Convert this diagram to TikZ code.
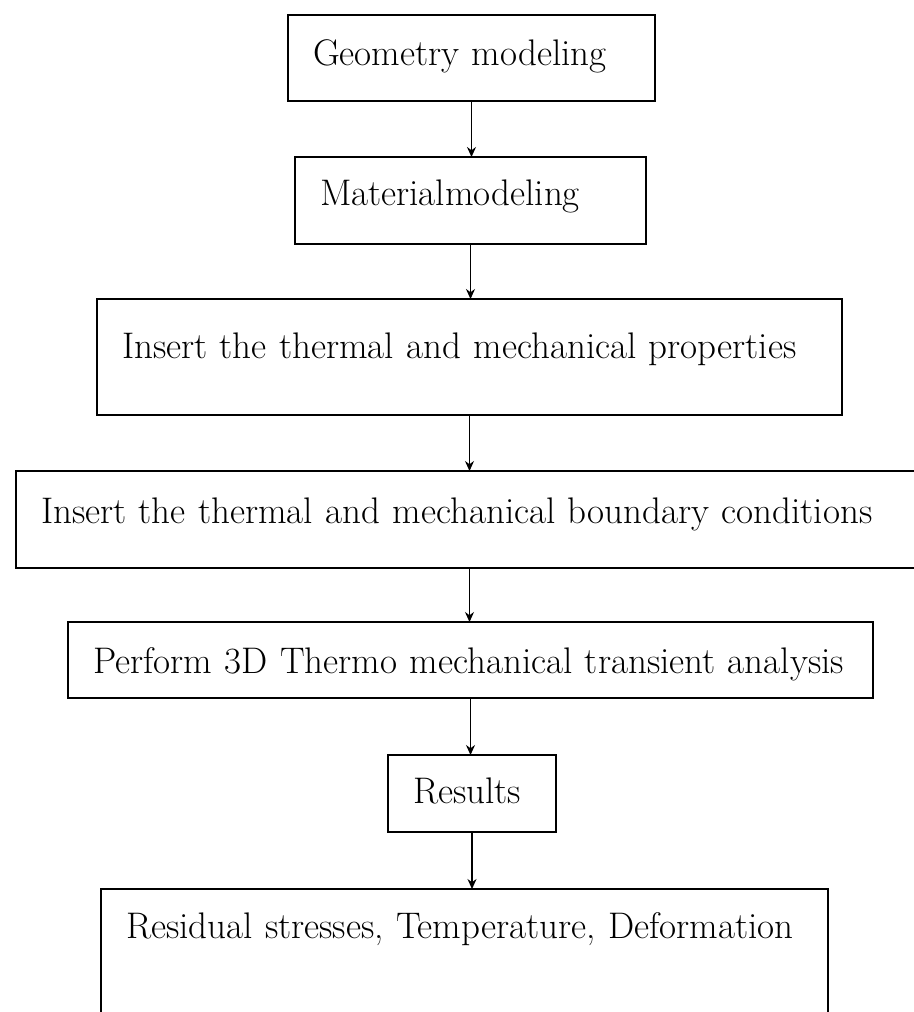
\documentclass[tikz,border=0pt]{standalone}
\usepackage{fontspec}
\usetikzlibrary{arrows.meta}
\begin{document}
\begin{tikzpicture}[x=0.5pt,y=-0.5pt,line join=miter,
  stepbox/.style={draw,line width=1pt,anchor=north west,outer sep=0pt,
    inner xsep=12.5pt,inner ysep=0pt,align=left,
    font=\fontsize{18.5}{22}\selectfont},
  flow/.style={line width=0.7pt,-{Stealth[length=5pt,width=4.5pt]}}]
  \useasboundingbox (0,0) rectangle (914,1012);
  % boxes, top-left corners in pixel units
  \node[stepbox,text width=158.5pt,text height=25.3pt,text depth=17.7pt] (geom) at (288,15) {Geometry modeling};
  \node[stepbox,text width=150.5pt,text height=24.3pt,text depth=19.2pt] (mat) at (295,157) {Materialmodeling};
  \node[stepbox,text width=347.5pt,text height=29.8pt,text depth=28.2pt] (props) at (97,299) {Insert the thermal and mechanical properties};
  \node[stepbox,text width=429pt,text height=26.3pt,text depth=22.2pt] (bcs) at (16,471) {Insert the thermal and mechanical boundary conditions};
  \node[stepbox,text width=377.5pt,text height=25.8pt,text depth=12.2pt] (solve) at (68,622) {Perform 3D Thermo mechanical transient analysis};
  \node[stepbox,text width=59pt,text height=24.3pt,text depth=14.2pt] (res) at (388,755) {Results};
  \node[stepbox,text width=338.5pt,text height=24.8pt,text depth=60.7pt] (out) at (101,889) {Residual stresses, Temperature, Deformation};
  % connectors
  \draw[flow] (geom.south) -- (geom.south |- mat.north);
  \draw[flow] (mat.south) -- (mat.south |- props.north);
  \draw[flow] (props.south) -- (props.south |- bcs.north);
  \draw[flow] (props.south |- bcs.south) -- (props.south |- solve.north);
  \draw[flow] (solve.south) -- (solve.south |- res.north);
  \draw[flow] (res.south) -- (res.south |- out.north);
\end{tikzpicture}
\end{document}
